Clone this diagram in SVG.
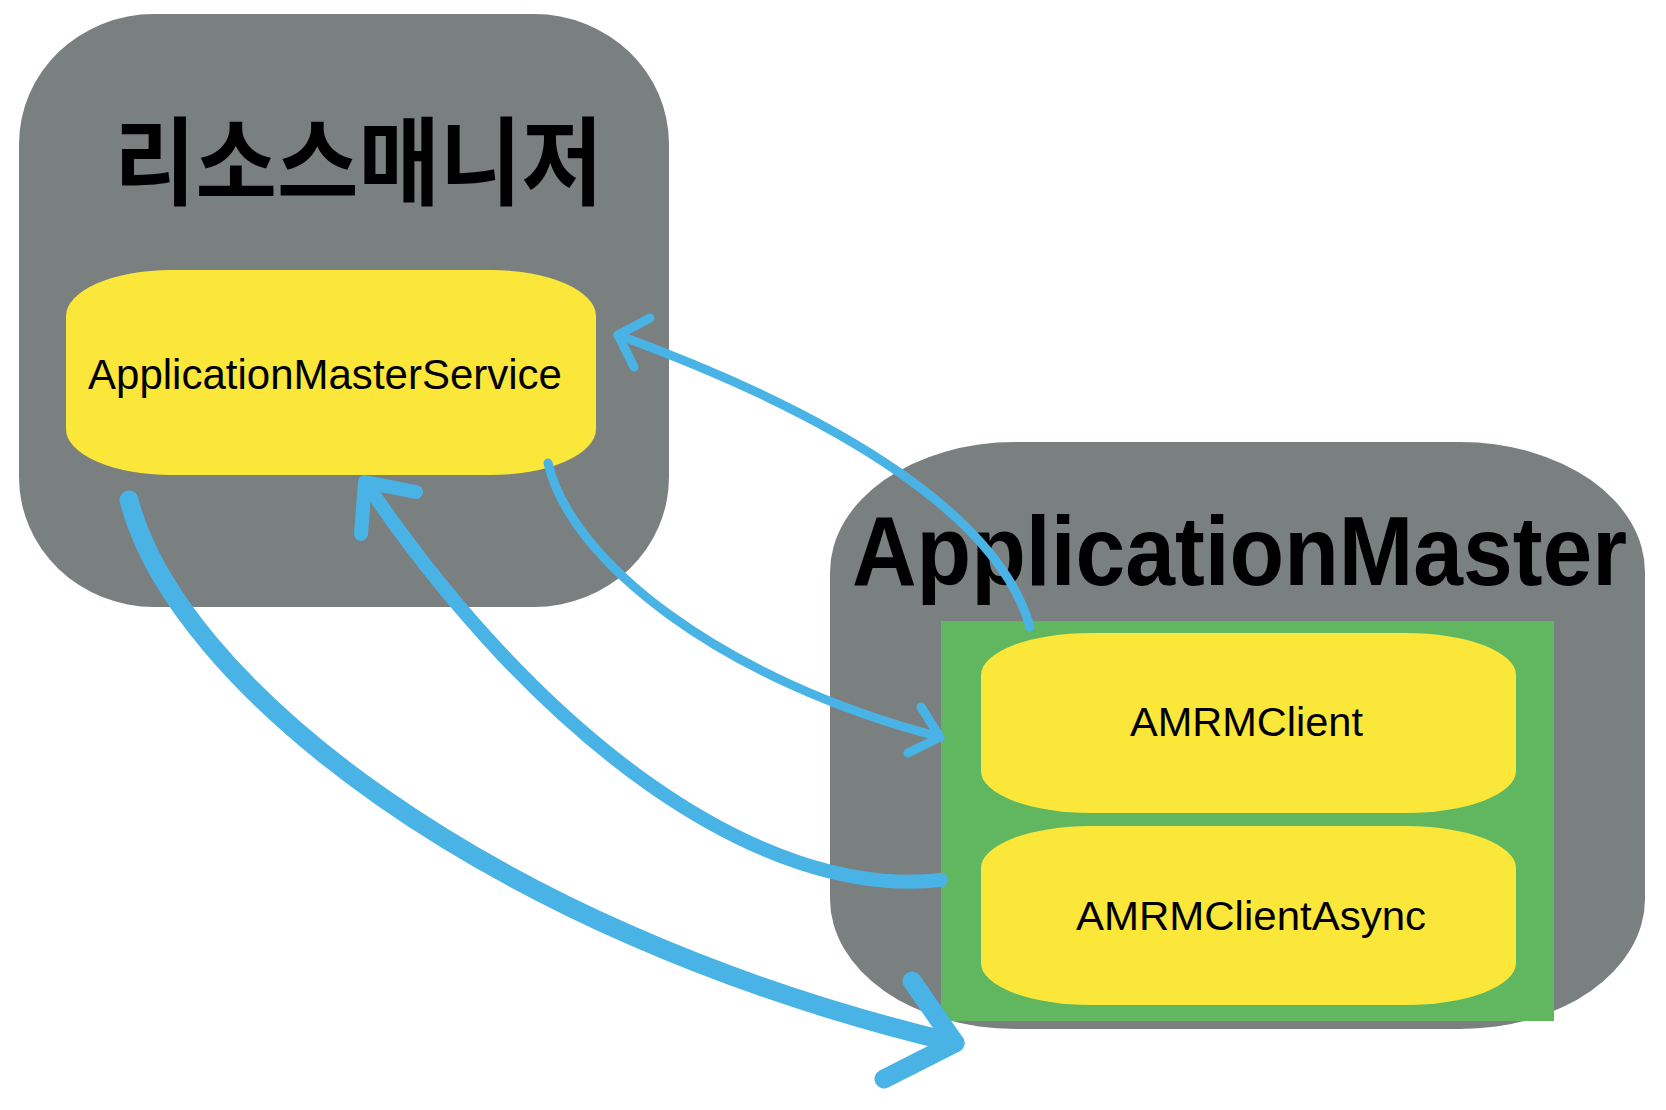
<svg xmlns="http://www.w3.org/2000/svg" width="1666" height="1110" viewBox="0 0 1666 1110">
<style>
.box{fill:#7a7f80}
.node{fill:#fbe73a}
.lbl{font-family:"Liberation Sans","Noto Sans",sans-serif;fill:#000}
.conn{fill:none;stroke:#4ab3e6;stroke-linecap:round;stroke-linejoin:round}
</style>
<rect width="1666" height="1110" fill="#ffffff"/>
<g id="resource-manager">
<rect class="box" x="19" y="14" width="650" height="593" rx="135" ry="130"/>
<text class="lbl" x="114" y="197" font-size="96" font-weight="bold" textLength="489" lengthAdjust="spacingAndGlyphs" style="font-family:'Noto Sans CJK KR','Noto Sans CJK SC',sans-serif">리소스매니저</text>
</g>
<g id="application-master-service">
<rect class="node" x="66" y="270" width="530" height="205" rx="105" ry="46"/>
<text class="lbl" x="88" y="389" font-size="43" textLength="474" lengthAdjust="spacingAndGlyphs">ApplicationMasterService</text>
</g>
<g id="application-master">
<rect class="box" x="830" y="442" width="815" height="587" rx="185" ry="130"/>
<text class="lbl" x="852" y="585" font-size="99" font-weight="bold" textLength="775" lengthAdjust="spacingAndGlyphs">ApplicationMaster</text>
<rect x="941" y="621" width="613" height="400" fill="#61b660"/>
</g>
<g id="amrm-client">
<rect class="node" x="981" y="633" width="535" height="180" rx="110" ry="42"/>
<text class="lbl" x="1130" y="736" font-size="40" textLength="233" lengthAdjust="spacingAndGlyphs">AMRMClient</text>
</g>
<g id="amrm-client-async">
<rect class="node" x="981" y="826" width="535" height="179" rx="110" ry="42"/>
<text class="lbl" x="1076" y="930" font-size="40" textLength="350" lengthAdjust="spacingAndGlyphs">AMRMClientAsync</text>
</g>
<g id="connectors">
<path class="conn" stroke-width="9" d="M1030,627 C1000,520 850,420 618,335"/>
<polyline class="conn" stroke-width="9" points="650,318 618,335 634,367"/>
<path class="conn" stroke-width="9" d="M548,463 C570,560 720,680 940,737"/>
<polyline class="conn" stroke-width="9" points="921,707 940,737 908,753"/>
<path class="conn" stroke-width="14" d="M941,880 C760,900 540,740 365,482"/>
<polyline class="conn" stroke-width="14" points="416,492 365,482 361,534"/>
<path class="conn" stroke-width="19" d="M129,500 C175,680 480,930 955,1043"/>
<polyline class="conn" stroke-width="19" points="912,981 955,1043 884,1079"/>
</g>
</svg>
